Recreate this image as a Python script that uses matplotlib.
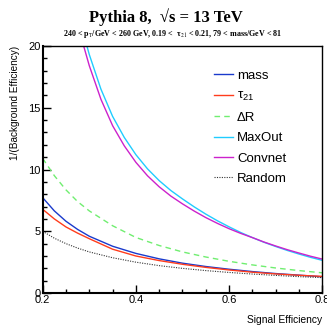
import matplotlib
matplotlib.use("Agg")
import matplotlib.pyplot as plt
from matplotlib.ticker import MultipleLocator

plt.rcParams['font.family'] = ['Liberation Sans', 'DejaVu Sans']
plt.rcParams['mathtext.fontset'] = 'custom'
plt.rcParams['mathtext.rm'] = 'Liberation Sans'
plt.rcParams['mathtext.it'] = 'Liberation Sans'

# signal efficiency grid for the slow curves
eff = [0.2, 0.225, 0.25, 0.275, 0.3, 0.35, 0.4, 0.45, 0.5, 0.55, 0.6, 0.65, 0.7, 0.75, 0.8]
mass = [7.72, 6.65, 5.81, 5.15, 4.6, 3.79, 3.21, 2.77, 2.42, 2.15, 1.93, 1.74, 1.58, 1.45, 1.32]
tau21 = [6.78, 6.0, 5.35, 4.85, 4.4, 3.55, 3.0, 2.63, 2.33, 2.08, 1.87, 1.69, 1.55, 1.44, 1.35]
delta_r = [10.9, 9.5, 8.35, 7.4, 6.65, 5.45, 4.5, 3.85, 3.33, 2.92, 2.57, 2.28, 2.03, 1.82, 1.64]
random_ = [5.0, 4.44, 4.0, 3.64, 3.33, 2.86, 2.5, 2.22, 2.0, 1.82, 1.67, 1.54, 1.43, 1.33, 1.25]

# finer grid for the steep network curves
eff_nn = [0.275, 0.3, 0.325, 0.35, 0.375, 0.4, 0.425, 0.45, 0.475, 0.5, 0.525, 0.55,
          0.575, 0.6, 0.625, 0.65, 0.675, 0.7, 0.725, 0.75, 0.775, 0.8]
maxout = [22.7, 19.3, 16.5, 14.3, 12.6, 11.2, 10.05, 9.1, 8.3, 7.62, 6.98, 6.39,
          5.85, 5.36, 4.9, 4.49, 4.11, 3.77, 3.45, 3.16, 2.89, 2.65]
convnet = [21.7, 18.4, 15.68, 13.55, 11.92, 10.58, 9.49, 8.6, 7.85, 7.22, 6.64, 6.11,
           5.64, 5.21, 4.83, 4.49, 4.13, 3.81, 3.51, 3.24, 2.98, 2.75]

fig = plt.figure(figsize=(3.27, 3.26), dpi=100)
ax = fig.add_axes([0.1306, 0.101, 0.855, 0.758])

ax.plot(eff, mass, color='#1a3acc', lw=1.0, label='mass')
ax.plot(eff, tau21, color='#ff3c1c', lw=1.0, label=r'τ$_{21}$')
ax.plot(eff, delta_r, color='#70ee70', lw=1.0, ls=(0, (4, 3)), label='ΔR')
ax.plot(eff_nn, maxout, color='#20ccff', lw=1.0, label='MaxOut')
ax.plot(eff_nn, convnet, color='#cc22cc', lw=1.0, label='Convnet')
ax.plot(eff, random_, color='#333333', lw=0.8, ls=(0, (1, 1.2)), label='Random')

ax.set_xlim(0.2, 0.8)
ax.set_ylim(0, 20)
ax.xaxis.set_major_locator(MultipleLocator(0.2))
ax.xaxis.set_minor_locator(MultipleLocator(0.05))
ax.yaxis.set_major_locator(MultipleLocator(5))
ax.yaxis.set_minor_locator(MultipleLocator(1))
ax.tick_params(which='both', direction='in', labelsize=8, pad=1.5, width=1.0)
ax.tick_params(which='major', length=5.5)
ax.tick_params(which='minor', length=3)
for s in ax.spines.values():
    s.set_linewidth(1.0)
ax.spines['left'].set_linewidth(1.5)
ax.spines['bottom'].set_linewidth(1.5)

ax.set_xlabel('Signal Efficiency', fontsize=7.4, loc='right', labelpad=7)
ax.set_ylabel('1/(Background Efficiency)', fontsize=7.2, loc='top', labelpad=6)

ax.legend(loc='upper left', bbox_to_anchor=(0.589, 0.931), frameon=False, fontsize=9.5,
          handlelength=1.45, handletextpad=0.3, labelspacing=0.62, borderpad=0)

fig.text(0.508, 0.948, 'Pythia 8,  √s = 13 TeV', ha='center', va='center',
         fontsize=12, fontweight='bold', family=['Liberation Serif', 'DejaVu Serif'])
fig.text(0.527, 0.897, r'240 < p$_{\mathrm{T}}$/GeV < 260 GeV, 0.19 <  τ$_{21}$ < 0.21, 79 < mass/GeV < 81',
         ha='center', va='center', fontsize=5.8, fontweight='bold', family='Liberation Serif',
         math_fontfamily='stix')

fig.savefig('out.png', dpi=100)
